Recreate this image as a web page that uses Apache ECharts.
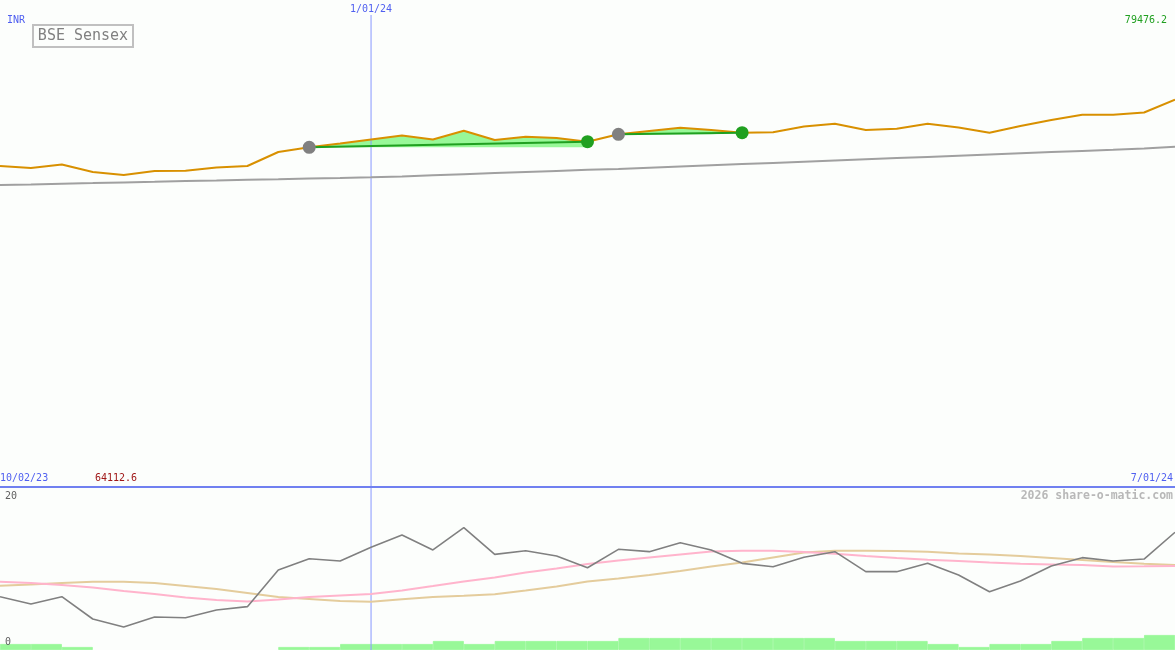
<!DOCTYPE html>
<html>
<head>
<meta charset="utf-8">
<script src="https://cdn.jsdelivr.net/npm/echarts@6/dist/echarts.min.js"></script>
<style>
html,body{margin:0;padding:0;background:#fcfefc;}
#c{width:1175px;height:650px;}
</style>
</head>
<body>
<div id="c"></div>
<script>
// ---- data ----
const dates = ['2023-10-09','2023-10-16','2023-10-23','2023-10-30','2023-11-06','2023-11-13','2023-11-20','2023-11-27','2023-12-04','2023-12-11','2023-12-18','2023-12-25','2024-01-01','2024-01-08','2024-01-15','2024-01-22','2024-01-29','2024-02-05','2024-02-12','2024-02-19','2024-02-26','2024-03-04','2024-03-11','2024-03-18','2024-03-25','2024-04-01','2024-04-08','2024-04-15','2024-04-22','2024-04-29','2024-05-06','2024-05-13','2024-05-20','2024-05-27','2024-06-03','2024-06-10','2024-06-17','2024-06-24','2024-07-01'];
const sensex = [65844,65432,66152,64609,63992,64815,64877,65535,65844,68724,69691,70473,71296,72119,71296,73107,71193,71872,71605,70844,72366,73045,73724,73251,72695,72777,73971,74547,73251,73519,74547,73765,72695,74074,75309,76399,76399,76852,79476];
const longAvg = [61934,62057,62201,62325,62469,62592,62736,62860,63004,63127,63271,63395,63539,63703,63930,64156,64382,64609,64835,65061,65247,65494,65741,65988,66234,66481,66728,66975,67222,67469,67716,67963,68210,68457,68704,68951,69198,69465,69815];
const tradeEntryIdx = [10, 20];
const tradeExitIdx = [19, 24];
const oscGray = [6.58,5.68,6.58,3.83,2.84,4.07,3.99,4.94,5.35,9.88,11.27,10.99,12.68,14.2,12.35,15.1,11.81,12.26,11.6,10.16,12.43,12.14,13.25,12.35,10.7,10.28,11.44,12.14,9.67,9.67,10.7,9.26,7.2,8.52,10.37,11.4,10.99,11.23,14.53];
const oscPink = [8.43,8.27,8.02,7.72,7.28,6.91,6.48,6.17,5.99,6.23,6.54,6.73,6.91,7.35,7.9,8.46,8.95,9.57,10.06,10.62,11.05,11.42,11.79,12.16,12.26,12.26,12.1,11.89,11.6,11.36,11.15,10.99,10.8,10.64,10.57,10.49,10.31,10.33,10.37];
const oscTan = [7.94,8.09,8.27,8.42,8.43,8.27,7.9,7.53,7.04,6.54,6.3,6.05,5.96,6.26,6.54,6.69,6.88,7.35,7.84,8.46,8.83,9.26,9.75,10.31,10.8,11.42,12.04,12.26,12.26,12.22,12.12,11.91,11.79,11.6,11.36,11.11,10.86,10.65,10.49];
const volume = [2,2,1,0,0,0,0,0,0,1,1,2,2,2,3,2,3,3,3,3,4,4,4,4,4,4,4,3,3,3,2,1,2,2,3,4,4,5];
const volBins = volume.map((v,i)=>dates[i]);
const markDate = '2024-01-01';
const markLabel = '1/01/24';
const startLabel = '10/02/23';
const endLabel = '7/01/24';
const maxLabel = '79476.2';
const minLabel = '64112.6';
const oscTicks = ['20','0'];
const currency = 'INR';
const title = 'BSE Sensex';
const credit = '2026 share-o-matic.com';

// ---- derived helpers ----
function fillFor(a, b) {
  return sensex.map((v,i)=> (i>=a && i<=b) ? v : null);
}
function tradeLine(a, b) {
  return sensex.map((v,i)=> (i===a || i===b) ? v : null);
}

const vColor = '#8898ff';
const mono = 'DejaVu Sans Mono';
const series = [];
tradeEntryIdx.forEach((a,k)=>{
  const b = tradeExitIdx[k];
  series.push({type:'line', xAxisIndex:0, yAxisIndex:0, data:fillFor(a,b), symbol:'none',
    lineStyle:{width:0}, areaStyle:{origin: sensex[a], color:'#98f898', opacity:1}, z:1, silent:true});
});
// vertical date marker (top panel), drawn as a two-point line on the category axis
series.push({type:'line', xAxisIndex:0, yAxisIndex:0, symbol:'none', silent:true, z:1,
  lineStyle:{color:vColor, width:1},
  data:[
    {value:[markDate, 96914], symbol:'circle', symbolSize:0.01,
     label:{show:true, position:'top', distance:1, formatter:markLabel, color:'#5060f0', fontSize:10, fontFamily:mono}},
    [markDate, 0]
  ]});
series.push({type:'line', xAxisIndex:0, yAxisIndex:0, data:longAvg, symbol:'none',
  lineStyle:{color:'#a0a0a0', width:2}, z:2});
series.push({type:'line', xAxisIndex:0, yAxisIndex:0, data:sensex, symbol:'none',
  lineStyle:{color:'#d89000', width:2}, z:3});
tradeEntryIdx.forEach((a,k)=>{
  const b = tradeExitIdx[k];
  series.push({type:'line', xAxisIndex:0, yAxisIndex:0, data:tradeLine(a,b), connectNulls:true, symbol:'none',
    lineStyle:{color:'#20a020', width:2}, z:4});
});
series.push({type:'scatter', xAxisIndex:0, yAxisIndex:0, symbolSize:13, z:5,
  itemStyle:{color:'#808080', opacity:1},
  data: tradeEntryIdx.map(i=>[dates[i], sensex[i]])});
series.push({type:'scatter', xAxisIndex:0, yAxisIndex:0, symbolSize:13, z:5,
  itemStyle:{color:'#20a020', opacity:1},
  data: tradeExitIdx.map(i=>[dates[i], sensex[i]])});

// lower panel
series.push({type:'bar', xAxisIndex:2, yAxisIndex:2, data:volume.map(v=> v===0 ? '-' : v), barCategoryGap:'0%', barGap:'0%',
  itemStyle:{color:'#98f898', borderColor:'#98f898', borderWidth:0.8}, z:1});
series.push({type:'line', xAxisIndex:1, yAxisIndex:1, symbol:'none', silent:true, z:1,
  lineStyle:{color:vColor, width:1},
  data:[[markDate, 20], [markDate, 0]]});
series.push({type:'line', xAxisIndex:1, yAxisIndex:1, data:oscTan, symbol:'none',
  lineStyle:{color:'#e4cc9c', width:2}, z:2});
series.push({type:'line', xAxisIndex:1, yAxisIndex:1, data:oscPink, symbol:'none',
  lineStyle:{color:'#ffb4cc', width:2}, z:2});
series.push({type:'line', xAxisIndex:1, yAxisIndex:1, data:oscGray, symbol:'none',
  lineStyle:{color:'#808080', width:1.6}, z:3});

const option = {
  backgroundColor:'#fcfefc',
  animation:false,
  grid:[
    {left:0, right:0, top:0, height:486, containLabel:false},
    {left:0, right:0, top:488, height:162, containLabel:false}
  ],
  xAxis:[
    {type:'category', gridIndex:0, data:dates, boundaryGap:false, show:false},
    {type:'category', gridIndex:1, data:dates, boundaryGap:false, show:false},
    {type:'category', gridIndex:1, data:volBins, boundaryGap:true, show:false}
  ],
  yAxis:[
    {type:'value', gridIndex:0, min:0, max:100000, show:false, splitLine:{show:false}},
    {type:'value', gridIndex:1, min:0, max:20, show:false, splitLine:{show:false}},
    {type:'value', gridIndex:1, min:0, max:54, show:false, splitLine:{show:false}}
  ],
  series: series,
  graphic:[
    {type:'line', shape:{x1:0, y1:487, x2:1175, y2:487}, style:{stroke:'#7080f0', lineWidth:2}, z:10},
    {type:'text', left:7, top:15, style:{text:currency, fill:'#5060f0', font:'10px '+mono}},
    {type:'rect', shape:{x:33, y:25, width:100, height:22}, style:{fill:'#fcfefc', stroke:'#c0c0c0', lineWidth:2}, z:10},
    {type:'text', x:83, y:36, style:{text:title, fill:'#808080', font:'15px '+mono, textAlign:'center', textVerticalAlign:'middle'}, z:11},
    {type:'text', x:1167, y:20.5, style:{text:maxLabel, fill:'#20a020', font:'10px '+mono, textAlign:'right', textVerticalAlign:'middle'}},
    {type:'text', x:0, y:478.5, style:{text:startLabel, fill:'#5060f0', font:'10px '+mono, textAlign:'left', textVerticalAlign:'middle'}},
    {type:'text', x:95, y:478.5, style:{text:minLabel, fill:'#a01818', font:'10px '+mono, textAlign:'left', textVerticalAlign:'middle'}},
    {type:'text', x:1173, y:478.5, style:{text:endLabel, fill:'#5060f0', font:'10px '+mono, textAlign:'right', textVerticalAlign:'middle'}},
    {type:'text', x:5, y:496, style:{text:oscTicks[0], fill:'#606060', font:'10px '+mono, textAlign:'left', textVerticalAlign:'middle'}},
    {type:'text', x:5, y:642, style:{text:oscTicks[1], fill:'#606060', font:'10px '+mono, textAlign:'left', textVerticalAlign:'middle'}, z:12},
    {type:'text', x:1173, y:496, style:{text:credit, fill:'#b8b8b8', font:'bold 11.5px '+mono, textAlign:'right', textVerticalAlign:'middle'}}
  ]
};
const chart = echarts.init(document.getElementById('c'));
chart.setOption(option);
</script>
</body>
</html>
